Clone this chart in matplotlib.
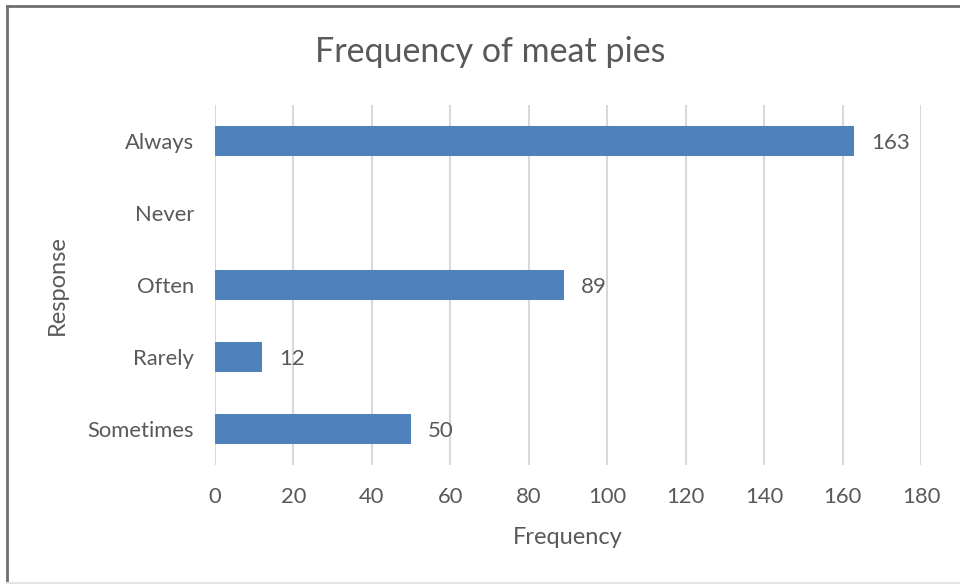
import matplotlib
matplotlib.use("Agg")
import matplotlib.pyplot as plt
from matplotlib.lines import Line2D

categories = ["Always", "Never", "Often", "Rarely", "Sometimes"]
values = [163, 0, 89, 12, 50]
x_ticks = [0, 20, 40, 60, 80, 100, 120, 140, 160, 180]

plt.rcParams["font.family"] = ["Lato", "DejaVu Sans"]
text_color = "#595959"
bar_color = "#4F81BD"
grid_color = "#D9D9D9"

W, H = 960, 584
fig = plt.figure(figsize=(W / 100, H / 100), dpi=100)
ax = fig.add_axes([215 / W, 1 - 465 / H, (921 - 215) / W, 360 / H])

ypos = list(range(len(categories)))
ax.barh(ypos, values, height=0.42, color=bar_color, zorder=3)
for y, v in zip(ypos, values):
    if v > 0:
        ax.annotate(str(v), (v, y), xytext=(12, -1.5), textcoords="offset points",
                    va="center", ha="left", fontsize=16, color=text_color)

ax.set_xlim(0, 180)
ax.set_ylim(len(categories) - 0.5, -0.5)
ax.set_yticks(ypos)
ax.set_yticklabels(categories)
ax.set_xticks(x_ticks)
ax.tick_params(axis="both", length=0, labelsize=15.8, colors=text_color)
ax.tick_params(axis="x", pad=16)
ax.tick_params(axis="y", pad=15)
ax.grid(axis="x", color=grid_color, linewidth=1.5, zorder=0)
for s in ax.spines.values():
    s.set_visible(False)

ax.set_xlabel("Frequency", fontsize=17, color=text_color, labelpad=14)
ax.set_ylabel("Response", fontsize=17, color=text_color, labelpad=14)
fig.text(490 / W, 1 - 52 / H, "Frequency of meat pies", ha="center", va="center",
         fontsize=24.5, color=text_color)

# chart frame: dark top and left edges, faint bottom edge
fig.add_artist(Line2D([7 / W, 1], [1 - 6 / H, 1 - 6 / H], transform=fig.transFigure,
                      color="#707070", linewidth=2))
fig.add_artist(Line2D([7 / W, 7 / W], [0, 1 - 6 / H], transform=fig.transFigure,
                      color="#707070", linewidth=2))
fig.add_artist(Line2D([7 / W, 1], [1 - 583 / H, 1 - 583 / H], transform=fig.transFigure,
                      color="#E3E3E3", linewidth=1.5))

fig.savefig("out.png", dpi=100, facecolor="white")
